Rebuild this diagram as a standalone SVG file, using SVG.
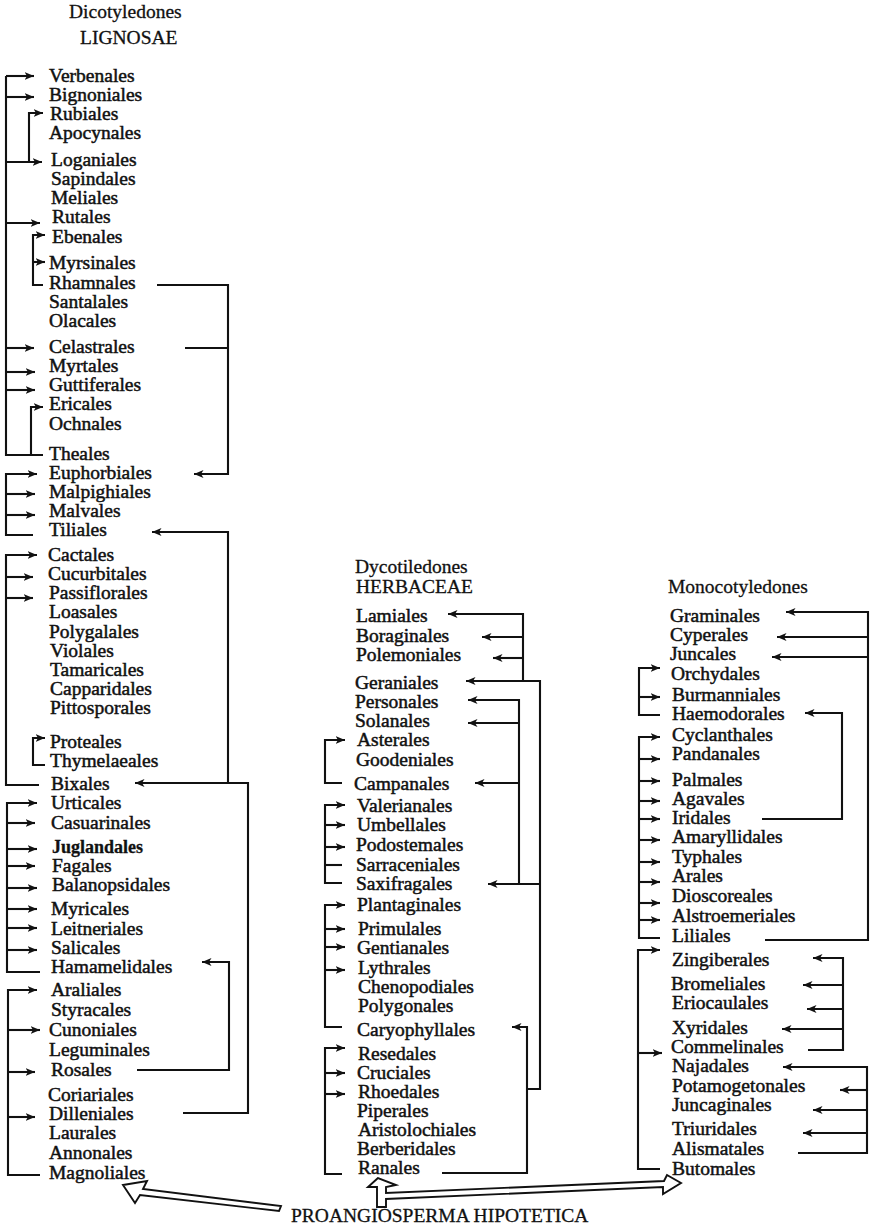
<svg xmlns="http://www.w3.org/2000/svg" width="873" height="1228" viewBox="0 0 873 1228">
<style>
text{font-family:"Liberation Serif","Times New Roman",serif;font-size:19.5px;fill:#111;stroke:#111;stroke-width:0.5px}
.hd{stroke-width:0.3px}
.jb{font-weight:bold;font-size:18px;stroke-width:0.3px}
.c path{fill:none;stroke:#111;stroke-width:2.1}
.c path.a{marker-end:url(#ah)}
.h{fill:#fff;stroke:#111;stroke-width:1.9;stroke-linejoin:miter}
</style>
<defs>
<marker id="ah" markerUnits="userSpaceOnUse" markerWidth="10" markerHeight="8" refX="9.5" refY="4" orient="auto">
<path d="M0,0 L9.5,4 L0,8 L2.5,4 z" fill="#111"/>
</marker>
</defs>
<rect width="873" height="1228" fill="#fff"/>
<g id="headers">
<text class="hd" x="69" y="18">Dicotyledones</text>
<text class="hd" x="80" y="44">LIGNOSAE</text>
<text class="hd" x="355" y="573">Dycotiledones</text>
<text class="hd" x="356" y="593">HERBACEAE</text>
<text class="hd" x="668" y="593">Monocotyledones</text>
</g>
<g id="lignosae">
<g id="n-verbenales"><text x="49" y="82">Verbenales</text></g>
<g id="n-bignoniales"><text x="49" y="101">Bignoniales</text></g>
<g id="n-rubiales"><text x="50" y="120">Rubiales</text></g>
<g id="n-apocynales"><text x="49" y="139">Apocynales</text></g>
<g id="n-loganiales"><text x="51" y="166">Loganiales</text></g>
<g id="n-sapindales"><text x="51" y="185">Sapindales</text></g>
<g id="n-meliales"><text x="51" y="204">Meliales</text></g>
<g id="n-rutales"><text x="52" y="223">Rutales</text></g>
<g id="n-ebenales"><text x="52" y="243">Ebenales</text></g>
<g id="n-myrsinales"><text x="49" y="269">Myrsinales</text></g>
<g id="n-rhamnales"><text x="49" y="289">Rhamnales</text></g>
<g id="n-santalales"><text x="49" y="308">Santalales</text></g>
<g id="n-olacales"><text x="49" y="327">Olacales</text></g>
<g id="n-celastrales"><text x="49" y="353">Celastrales</text></g>
<g id="n-myrtales"><text x="49" y="372">Myrtales</text></g>
<g id="n-guttiferales"><text x="49" y="391">Guttiferales</text></g>
<g id="n-ericales"><text x="49" y="410">Ericales</text></g>
<g id="n-ochnales"><text x="49" y="430">Ochnales</text></g>
<g id="n-theales"><text x="49" y="460">Theales</text></g>
<g id="n-euphorbiales"><text x="49" y="479">Euphorbiales</text></g>
<g id="n-malpighiales"><text x="49" y="498">Malpighiales</text></g>
<g id="n-malvales"><text x="49" y="517">Malvales</text></g>
<g id="n-tiliales"><text x="49" y="536">Tiliales</text></g>
<g id="n-cactales"><text x="48" y="561">Cactales</text></g>
<g id="n-cucurbitales"><text x="48" y="580">Cucurbitales</text></g>
<g id="n-passiflorales"><text x="49" y="599">Passiflorales</text></g>
<g id="n-loasales"><text x="49" y="618">Loasales</text></g>
<g id="n-polygalales"><text x="49" y="638">Polygalales</text></g>
<g id="n-violales"><text x="50" y="657">Violales</text></g>
<g id="n-tamaricales"><text x="50" y="676">Tamaricales</text></g>
<g id="n-capparidales"><text x="50" y="695">Capparidales</text></g>
<g id="n-pittosporales"><text x="50" y="714">Pittosporales</text></g>
<g id="n-proteales"><text x="50" y="748">Proteales</text></g>
<g id="n-thymelaeales"><text x="50" y="767">Thymelaeales</text></g>
<g id="n-bixales"><text x="51" y="790">Bixales</text></g>
<g id="n-urticales"><text x="51" y="809">Urticales</text></g>
<g id="n-casuarinales"><text x="51" y="829">Casuarinales</text></g>
<g id="n-juglandales"><text class="jb" x="52" y="853">Juglandales</text></g>
<g id="n-fagales"><text x="52" y="872">Fagales</text></g>
<g id="n-balanopsidales"><text x="52" y="891">Balanopsidales</text></g>
<g id="n-myricales"><text x="51" y="915">Myricales</text></g>
<g id="n-leitneriales"><text x="51" y="935">Leitneriales</text></g>
<g id="n-salicales"><text x="51" y="954">Salicales</text></g>
<g id="n-hamamelidales"><text x="51" y="973">Hamamelidales</text></g>
<g id="n-araliales"><text x="51" y="996">Araliales</text></g>
<g id="n-styracales"><text x="51" y="1016">Styracales</text></g>
<g id="n-cunoniales"><text x="49" y="1036">Cunoniales</text></g>
<g id="n-leguminales"><text x="49" y="1056">Leguminales</text></g>
<g id="n-rosales"><text x="51" y="1076">Rosales</text></g>
<g id="n-coriariales"><text x="48" y="1101">Coriariales</text></g>
<g id="n-dilleniales"><text x="49" y="1120">Dilleniales</text></g>
<g id="n-laurales"><text x="49" y="1139">Laurales</text></g>
<g id="n-annonales"><text x="49" y="1159">Annonales</text></g>
<g id="n-magnoliales"><text x="49" y="1179">Magnoliales</text></g>
</g>
<g id="herbaceae">
<g id="n-lamiales"><text x="356" y="622">Lamiales</text></g>
<g id="n-boraginales"><text x="356" y="642">Boraginales</text></g>
<g id="n-polemoniales"><text x="356" y="661">Polemoniales</text></g>
<g id="n-geraniales"><text x="355" y="689">Geraniales</text></g>
<g id="n-personales"><text x="355" y="708">Personales</text></g>
<g id="n-solanales"><text x="355" y="727">Solanales</text></g>
<g id="n-asterales"><text x="357" y="746">Asterales</text></g>
<g id="n-goodeniales"><text x="356" y="766">Goodeniales</text></g>
<g id="n-campanales"><text x="354" y="790">Campanales</text></g>
<g id="n-valerianales"><text x="357" y="812">Valerianales</text></g>
<g id="n-umbellales"><text x="357" y="831">Umbellales</text></g>
<g id="n-podostemales"><text x="356" y="851">Podostemales</text></g>
<g id="n-sarraceniales"><text x="356" y="871">Sarraceniales</text></g>
<g id="n-saxifragales"><text x="356" y="890">Saxifragales</text></g>
<g id="n-plantaginales"><text x="357" y="911">Plantaginales</text></g>
<g id="n-primulales"><text x="358" y="935">Primulales</text></g>
<g id="n-gentianales"><text x="357" y="954">Gentianales</text></g>
<g id="n-lythrales"><text x="358" y="974">Lythrales</text></g>
<g id="n-chenopodiales"><text x="358" y="993">Chenopodiales</text></g>
<g id="n-polygonales"><text x="358" y="1012">Polygonales</text></g>
<g id="n-caryophyllales"><text x="357" y="1036">Caryophyllales</text></g>
<g id="n-resedales"><text x="358" y="1060">Resedales</text></g>
<g id="n-cruciales"><text x="357" y="1079">Cruciales</text></g>
<g id="n-rhoedales"><text x="358" y="1098">Rhoedales</text></g>
<g id="n-piperales"><text x="357" y="1117">Piperales</text></g>
<g id="n-aristolochiales"><text x="358" y="1136">Aristolochiales</text></g>
<g id="n-berberidales"><text x="357" y="1155">Berberidales</text></g>
<g id="n-ranales"><text x="358" y="1174">Ranales</text></g>
</g>
<g id="monocotyledones">
<g id="n-graminales"><text x="670" y="622">Graminales</text></g>
<g id="n-cyperales"><text x="670" y="641">Cyperales</text></g>
<g id="n-juncales"><text x="670" y="660">Juncales</text></g>
<g id="n-orchydales"><text x="671" y="680">Orchydales</text></g>
<g id="n-burmanniales"><text x="672" y="701">Burmanniales</text></g>
<g id="n-haemodorales"><text x="672" y="720">Haemodorales</text></g>
<g id="n-cyclanthales"><text x="672" y="741">Cyclanthales</text></g>
<g id="n-pandanales"><text x="672" y="760">Pandanales</text></g>
<g id="n-palmales"><text x="672" y="786">Palmales</text></g>
<g id="n-agavales"><text x="672" y="805">Agavales</text></g>
<g id="n-iridales"><text x="672" y="824">Iridales</text></g>
<g id="n-amaryllidales"><text x="672" y="843">Amaryllidales</text></g>
<g id="n-typhales"><text x="672" y="863">Typhales</text></g>
<g id="n-arales"><text x="672" y="882">Arales</text></g>
<g id="n-dioscoreales"><text x="672" y="902">Dioscoreales</text></g>
<g id="n-alstroemeriales"><text x="672" y="922">Alstroemeriales</text></g>
<g id="n-liliales"><text x="672" y="942">Liliales</text></g>
<g id="n-zingiberales"><text x="672" y="966">Zingiberales</text></g>
<g id="n-bromeliales"><text x="671" y="990">Bromeliales</text></g>
<g id="n-eriocaulales"><text x="672" y="1009">Eriocaulales</text></g>
<g id="n-xyridales"><text x="672" y="1034">Xyridales</text></g>
<g id="n-commelinales"><text x="671" y="1053">Commelinales</text></g>
<g id="n-najadales"><text x="672" y="1072">Najadales</text></g>
<g id="n-potamogetonales"><text x="672" y="1092">Potamogetonales</text></g>
<g id="n-juncaginales"><text x="672" y="1111">Juncaginales</text></g>
<g id="n-triuridales"><text x="672" y="1135">Triuridales</text></g>
<g id="n-alismatales"><text x="672" y="1155">Alismatales</text></g>
<g id="n-butomales"><text x="672" y="1175">Butomales</text></g>
</g>
<g id="n-proangiosperma"><text class="hd" x="291" y="1222">PROANGIOSPERMA HIPOTETICA</text></g>
<g id="connectors" class="c">
<path d="M43,455 H6 V76"/>
<path class="a" d="M6,76 H34"/>
<path class="a" d="M6,97 H34"/>
<path class="a" d="M6,162 H42"/>
<path class="a" d="M29,162 V113 H43"/>
<path class="a" d="M6,223 H40"/>
<path class="a" d="M43,285 H33 V235 H45"/>
<path class="a" d="M33,262 H45"/>
<path class="a" d="M6,348 H34"/>
<path class="a" d="M6,372 H35"/>
<path class="a" d="M6,390 H35"/>
<path class="a" d="M31,455 V407 H43"/>
<path class="a" d="M157,285 H228 V474 H194"/>
<path d="M185,348 H228"/>
<path class="a" d="M33,535 H6 V474 H37"/>
<path class="a" d="M6,494 H35"/>
<path class="a" d="M6,515 H35"/>
<path class="a" d="M183,1113 H248 V783 H135"/>
<path class="a" d="M228,783 V532 H152"/>
<path class="a" d="M39,785 H6 V555 H37"/>
<path class="a" d="M6,577 H33"/>
<path class="a" d="M6,598 H33"/>
<path class="a" d="M45,765 H33 V738 H45"/>
<path class="a" d="M40,972 H7 V803 H37"/>
<path class="a" d="M7,823 H35"/>
<path class="a" d="M7,849 H37"/>
<path class="a" d="M7,866 H35"/>
<path class="a" d="M7,888 H37"/>
<path class="a" d="M7,909 H37"/>
<path class="a" d="M7,928 H37"/>
<path class="a" d="M7,950 H37"/>
<path class="a" d="M137,1070 H229 V962 H202"/>
<path class="a" d="M40,1175 H8 V990 H37"/>
<path class="a" d="M8,1030 H40"/>
<path class="a" d="M8,1072 H35"/>
<path class="a" d="M8,1117 H35"/>
<path class="a" d="M442,1173 H527 V1027 H512"/>
<path class="a" d="M527,1089 H540 V681 H466"/>
<path class="a" d="M523,681 V614 H448"/>
<path class="a" d="M523,637 H482"/>
<path class="a" d="M523,658 H493"/>
<path class="a" d="M540,884 H488"/>
<path class="a" d="M519,884 V700 H468"/>
<path class="a" d="M519,723 H468"/>
<path class="a" d="M519,783 H475"/>
<path class="a" d="M342,783 H325 V740 H345"/>
<path class="a" d="M342,883 H325 V805 H345"/>
<path class="a" d="M325,825 H345"/>
<path class="a" d="M325,847 H345"/>
<path d="M325,865 H342"/>
<path class="a" d="M342,1027 H325 V905 H345"/>
<path class="a" d="M325,929 H345"/>
<path class="a" d="M325,947 H345"/>
<path class="a" d="M325,970 H345"/>
<path class="a" d="M342,1174 H325 V1048 H345"/>
<path class="a" d="M325,1073 H345"/>
<path class="a" d="M325,1094 H345"/>
<path class="a" d="M765,940 H868 V612 H786"/>
<path class="a" d="M868,637 H777"/>
<path class="a" d="M868,657 H772"/>
<path class="a" d="M762,819 H842 V713 H805"/>
<path class="a" d="M660,715 H639 V668 H660"/>
<path class="a" d="M639,697 H660"/>
<path class="a" d="M660,938 H639 V737 H660"/>
<path class="a" d="M639,759 H660"/>
<path class="a" d="M639,781 H660"/>
<path class="a" d="M639,801 H660"/>
<path class="a" d="M639,819 H660"/>
<path class="a" d="M639,840 H660"/>
<path class="a" d="M639,862 H660"/>
<path class="a" d="M639,882 H660"/>
<path class="a" d="M639,903 H660"/>
<path class="a" d="M639,920 H660"/>
<path class="a" d="M660,1169 H638 V950 H660"/>
<path class="a" d="M638,1053 H662"/>
<path class="a" d="M808,1050 H843 V958 H813"/>
<path class="a" d="M843,985 H803"/>
<path class="a" d="M843,1009 H807"/>
<path class="a" d="M843,1029 H782"/>
<path class="a" d="M798,1153 H867 V1067 H783"/>
<path class="a" d="M867,1090 H840"/>
<path class="a" d="M867,1110 H813"/>
<path class="a" d="M867,1133 H803"/>
<polygon class="h" points="123,1185 147,1181 143,1189 281,1206 279,1211 140,1195 135,1203"/>
<polygon class="h" points="378,1178 368,1187 377,1187 377,1207 386,1207 386,1199 663,1187 663,1194 681,1183 667,1175 664,1181 386,1193 386,1187 396,1185"/>
</g>
</svg>
